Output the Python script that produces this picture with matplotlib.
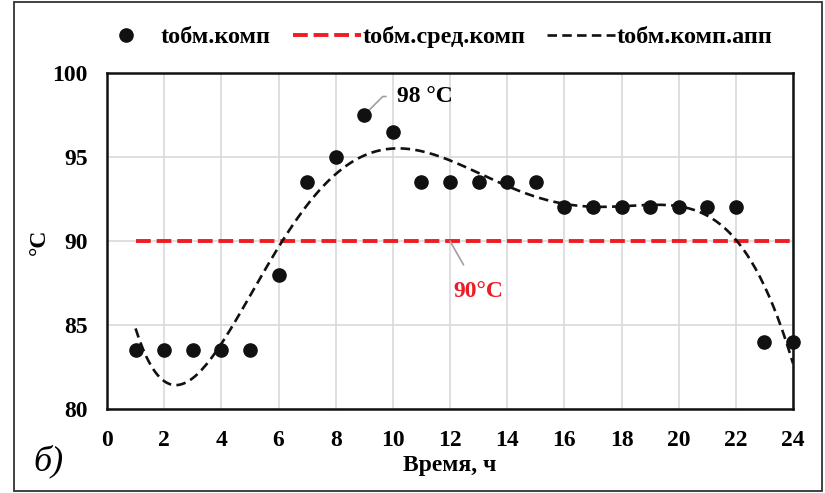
import matplotlib.pyplot as plt
import numpy as np
from matplotlib.patches import Rectangle

plt.rcParams['font.family'] = ['Liberation Serif', 'DejaVu Serif']
plt.rcParams['font.weight'] = 'bold'
plt.rcParams['axes.labelweight'] = 'bold'

# hourly compressor temperature, °C
hours = np.arange(1, 25)
t_comp = [83.5, 83.5, 83.5, 83.5, 83.5, 88.0, 93.5, 95.0, 97.5, 96.5, 93.5, 93.5,
          93.5, 93.5, 93.5, 92.0, 92.0, 92.0, 92.0, 92.0, 92.0, 92.0, 84.0, 84.0]
t_mean = 90.0

x_ticks = list(range(0, 25, 2))
y_ticks = [80, 85, 90, 95, 100]

# 6th order polynomial trend, same as the spreadsheet trendline
coef = np.polyfit(hours, t_comp, 6)
x_fit = np.linspace(1, 24, 300)
y_fit = np.polyval(coef, x_fit)

fig = plt.figure(figsize=(8.25, 4.93), dpi=100)
ax = fig.add_axes([107 / 825, 1 - 409 / 493, 686 / 825, 336 / 493])

ax.grid(True, color='#d9d9d9', linewidth=1.2)
ax.set_axisbelow(True)

ax.plot(hours, t_comp, 'o', color='#111111', markersize=9.5, label='tобм.комп',
        zorder=4, clip_on=False)
ax.plot([hours[0], hours[-1]], [t_mean, t_mean], color='#ee1c24', linewidth=2.8,
        dashes=(3.8, 1.5), label='tобм.сред.комп', zorder=3)
ax.plot(x_fit, y_fit, color='#111111', linewidth=1.9, dashes=(3.6, 2.0),
        label='tобм.комп.апп', zorder=5)

ax.set_xlim(0, 24)
ax.set_ylim(80, 100)
ax.set_xticks(x_ticks)
ax.set_yticks(y_ticks)
ax.tick_params(length=0, labelsize=17)
ax.tick_params(axis='y', pad=14)
ax.tick_params(axis='x', pad=15)
for s in ax.spines.values():
    s.set_linewidth(1.8)
    s.set_color('#111111')

ax.set_xlabel('Время, ч', fontsize=17)
ax.set_ylabel('°C', fontsize=17)
ax.xaxis.set_label_coords((450 - 107) / 686, -(466 - 409) / 336)
ax.yaxis.set_label_coords(-(107 - 39) / 686, (409 - 242) / 336)
ax.xaxis.label.set_va('center')
ax.yaxis.label.set_va('center')

# peak value callout
peak_i = int(np.argmax(t_comp))
ax.annotate(f'{round(max(t_comp))} °C', xy=(hours[peak_i], t_comp[peak_i]),
            xytext=(10.15, 98.6), fontsize=17, va='center', ha='left',
            arrowprops=dict(arrowstyle='-', color='#a0a0a0', lw=1.2,
                            connectionstyle='angle,angleA=0,angleB=45,rad=0',
                            shrinkA=6, shrinkB=4))

# mean value callout
ax.annotate(f'{t_mean:.0f}°C', xy=(12, t_mean), xytext=(13.0, 87.0),
            fontsize=17, color='#ee1c24', va='center', ha='center',
            arrowprops=dict(arrowstyle='-', color='#a0a0a0', lw=1.2,
                            shrinkA=11, shrinkB=0))

fig.legend(loc='center', bbox_to_anchor=(432 / 825, 1 - 37 / 493), ncol=3,
           frameon=False, fontsize=17.5, handlelength=2.8, handletextpad=0.05,
           columnspacing=0.9)

fig.text(33 / 825, 1 - 461 / 493, 'б)', fontsize=26, style='italic',
         fontweight='normal', va='center', ha='left')

# outer frame of the figure panel
fig.patches.append(Rectangle((14 / 825, 1 - 491 / 493), 808 / 825, 489 / 493,
                             transform=fig.transFigure, fill=False,
                             edgecolor='#333333', linewidth=1.3))

fig.savefig('out.png', dpi=100)
